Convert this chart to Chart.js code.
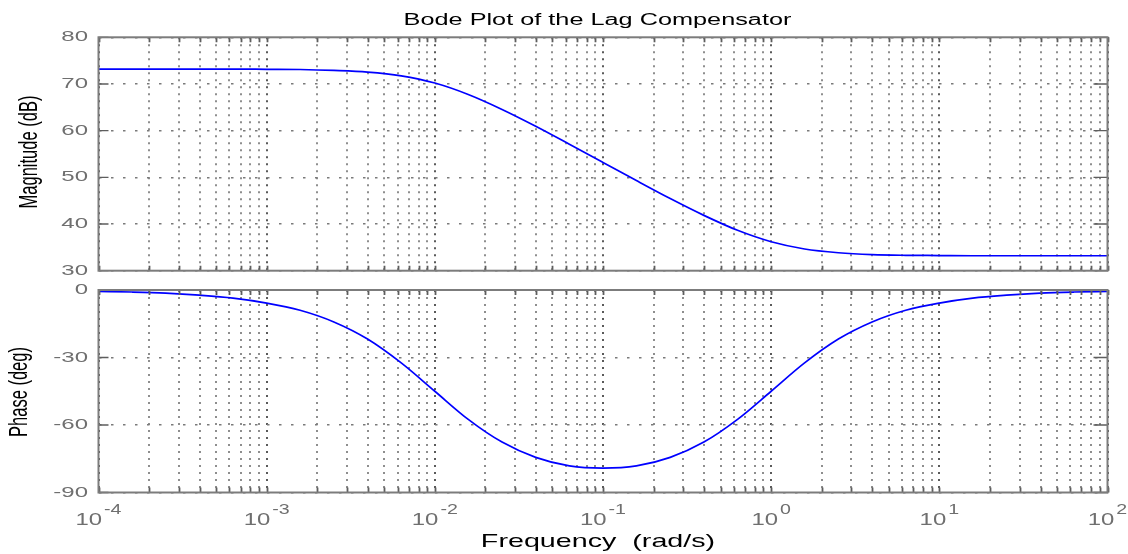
<!DOCTYPE html>
<html>
<head>
<meta charset="utf-8">
<title>Bode Plot of the Lag Compensator</title>
<script src="https://cdn.jsdelivr.net/npm/chart.js@4.4.1/dist/chart.umd.min.js"></script>
<style>
    html, body { margin: 0; padding: 0; background: #fff; }
    #wrap { position: relative; width: 1128px; height: 554px; overflow: hidden; }
    #wrap canvas { position: absolute; left: 0; }
    #mag { top: 0; }
    #phase { top: 280px; }
</style>
</head>
<body>
<div id="wrap">
    <canvas id="mag" width="1128" height="280"></canvas>
    <canvas id="phase" width="1128" height="274"></canvas>
</div>
<script>
// values
var FREQ = [1e-4, 1.58e-4, 2.51e-4, 3.98e-4, 6.31e-4,
            1e-3, 1.58e-3, 2.51e-3, 3.98e-3, 6.31e-3,
            1e-2, 1.58e-2, 2.51e-2, 3.98e-2, 6.31e-2,
            0.1, 0.158, 0.251, 0.398, 0.631,
            1, 1.58, 2.51, 3.98, 6.31,
            10, 15.8, 25.1, 39.8, 63.1, 100];
var MAG_DB = [73.2, 73.2, 73.2, 73.2, 73.2,
              73.15, 73.1, 72.9, 72.55, 71.75,
              70.2, 67.75, 64.55, 60.95, 57.1,
              53.2, 49.3, 45.45, 41.85, 38.65,
              36.2, 34.65, 33.85, 33.45, 33.3,
              33.25, 33.2, 33.2, 33.2, 33.2, 33.2];
var PHASE_DEG = [-0.6, -0.9, -1.4, -2.3, -3.6,
                 -5.8, -9.0, -14.2, -21.8, -32.4,
                 -45.0, -57.5, -67.6, -74.4, -78.2,
                 -79.2, -78.2, -74.4, -67.6, -57.5,
                 -45.0, -32.4, -21.8, -14.2, -9.0,
                 -5.8, -3.6, -2.3, -1.4, -0.9, -0.6];

var DECADES = [1e-4, 1e-3, 1e-2, 1e-1, 1, 10, 100];
var DECADE_EXP = ['-4', '-3', '-2', '-1', '0', '1', '2'];
var MINOR_STEPS = [2, 3, 4, 5, 6, 7, 8, 9];
var MAG_TICKS = [30, 40, 50, 60, 70, 80];
var PHASE_TICKS = [-90, -60, -30, 0];

var TITLE = 'Bode Plot of the Lag Compensator';
var X_TITLE = 'Frequency  (rad/s)';
var MAG_TITLE = 'Magnitude (dB)';
var PHASE_TITLE = 'Phase (deg)';

var FONT = '"Liberation Sans", Arial, sans-serif';
var TICK_TEXT = '#6f6f6f';
var FRAME = '#7c7c7c';

function isDecade(v) {
    var l = Math.log10(v);
    return Math.abs(l - Math.round(l)) < 1e-6;
}

function xTickValues() {
    var out = [];
    for (var i = 0; i < DECADES.length; i++) {
        out.push({ value: DECADES[i] });
        if (i < DECADES.length - 1) {
            for (var j = 0; j < MINOR_STEPS.length; j++) {
                out.push({ value: DECADES[i] * MINOR_STEPS[j] });
            }
        }
    }
    return out;
}

function points(ys) {
    var pts = [];
    for (var i = 0; i < FREQ.length; i++) {
        pts.push({ x: FREQ[i], y: ys[i] });
    }
    return pts;
}

// text drawn with a horizontal stretch, the reference picture is widened
function stretchText(ctx, str, x, y, size, sx, align, baseline, color, rotated) {
    ctx.save();
    ctx.translate(x, y);
    ctx.scale(sx, 1);
    if (rotated) {
        ctx.rotate(-Math.PI / 2);
    }
    ctx.font = size + 'px ' + FONT;
    ctx.textAlign = align;
    ctx.textBaseline = baseline;
    ctx.fillStyle = color;
    ctx.fillText(str, 0, 0);
    ctx.restore();
}

var bodeFrame = {
    id: 'bodeFrame',
    afterDraw: function (chart, args, opts) {
        var ctx = chart.ctx;
        var a = chart.chartArea;
        var xs = chart.scales.x;
        var ys = chart.scales.y;
        var i, px, py;

        ctx.save();
        // inward tick marks, MATLAB style
        ctx.strokeStyle = '#5e5e5e';
        ctx.lineWidth = 1.8;
        ctx.beginPath();
        for (i = 0; i < xs.ticks.length; i++) {
            px = Math.round(xs.getPixelForValue(xs.ticks[i].value)) + 0.5;
            ctx.moveTo(px, a.top);
            ctx.lineTo(px, a.top + 5);
            ctx.moveTo(px, a.bottom);
            ctx.lineTo(px, a.bottom - 5);
        }
        ctx.stroke();
        ctx.lineWidth = 1.3;
        ctx.beginPath();
        for (i = 0; i < ys.ticks.length; i++) {
            py = ys.getPixelForValue(ys.ticks[i].value);
            ctx.moveTo(a.left, py);
            ctx.lineTo(a.left + 10, py);
            ctx.moveTo(a.right, py);
            ctx.lineTo(a.right - 14, py);
        }
        ctx.stroke();

        // box
        ctx.strokeStyle = FRAME;
        ctx.lineWidth = 2;
        ctx.strokeRect(a.left, a.top, a.right - a.left, a.bottom - a.top);
        ctx.restore();

        // y tick labels
        for (i = 0; i < ys.ticks.length; i++) {
            py = ys.getPixelForValue(ys.ticks[i].value);
            stretchText(ctx, String(ys.ticks[i].value), 88, py, 15, 1.6, 'right', 'middle', TICK_TEXT, false);
        }

        // y axis title
        stretchText(ctx, opts.yTitle, opts.yTitleX, opts.yTitleY, 16.5, 1.55, 'center', 'middle', '#000', true);

        if (opts.title) {
            stretchText(ctx, opts.title, 597.5, 24.5, 15.8, 1.6, 'center', 'alphabetic', '#000', false);
        }

        if (opts.xLabels) {
            var base = a.bottom + 32;
            for (i = 0; i < DECADES.length; i++) {
                px = xs.getPixelForValue(DECADES[i]);
                ctx.save();
                ctx.font = '16.5px ' + FONT;
                var w1 = ctx.measureText('10').width * 1.45;
                ctx.font = '14px ' + FONT;
                var w2 = ctx.measureText(DECADE_EXP[i]).width * 1.4;
                ctx.restore();
                var x0 = px - (w1 + 2 + w2) / 2;
                stretchText(ctx, '10', x0, base, 16.5, 1.45, 'left', 'alphabetic', TICK_TEXT, false);
                stretchText(ctx, DECADE_EXP[i], x0 + w1 + 2, base - 11, 14, 1.4, 'left', 'alphabetic', TICK_TEXT, false);
            }
            stretchText(ctx, opts.xTitle, 598, a.bottom + 54.5, 18.5, 1.55, 'center', 'alphabetic', '#000', false);
        }
    }
};

function xScale() {
    return {
        type: 'logarithmic',
        min: 1e-4,
        max: 100,
        afterBuildTicks: function (scale) {
            scale.ticks = xTickValues();
        },
        ticks: { display: false },
        border: { display: false, dash: [2, 5] },
        grid: {
            drawTicks: false,
            lineWidth: 2,
            color: function (c) {
                if (c.tick && isDecade(c.tick.value)) {
                    return '#5a5a5a';
                }
                return '#8e8e8e';
            }
        }
    };
}

function yScale(lo, hi, list) {
    return {
        type: 'linear',
        min: lo,
        max: hi,
        afterBuildTicks: function (scale) {
            scale.ticks = list.map(function (v) { return { value: v }; });
        },
        ticks: { display: false },
        border: { display: false, dash: [2.5, 9.5] },
        grid: { drawTicks: false, lineWidth: 1.5, color: '#7a7a7a' }
    };
}

function makeChart(id, ys, lo, hi, list, padding, frameOpts) {
    return new Chart(document.getElementById(id), {
        type: 'line',
        data: {
            datasets: [{
                data: points(ys),
                borderColor: '#0000ff',
                borderWidth: 1.7,
                pointRadius: 0,
                cubicInterpolationMode: 'monotone',
                fill: false
            }]
        },
        options: {
            responsive: false,
            animation: false,
            devicePixelRatio: 1,
            layout: { padding: padding },
            plugins: {
                legend: { display: false },
                tooltip: { enabled: false },
                bodeFrame: frameOpts
            },
            scales: {
                x: xScale(),
                y: yScale(lo, hi, list)
            }
        },
        plugins: [bodeFrame]
    });
}

makeChart('mag', MAG_DB, 30, 80, MAG_TICKS,
    { left: 98.5, right: 20.5, top: 37.3, bottom: 9.3 },
    { title: TITLE, yTitle: MAG_TITLE, yTitleX: 30, yTitleY: 152 });

makeChart('phase', PHASE_DEG, -90, 0, PHASE_TICKS,
    { left: 98.5, right: 20.5, top: 10, bottom: 61.5 },
    { yTitle: PHASE_TITLE, yTitleX: 20, yTitleY: 112, xLabels: true, xTitle: X_TITLE });
</script>
</body>
</html>
